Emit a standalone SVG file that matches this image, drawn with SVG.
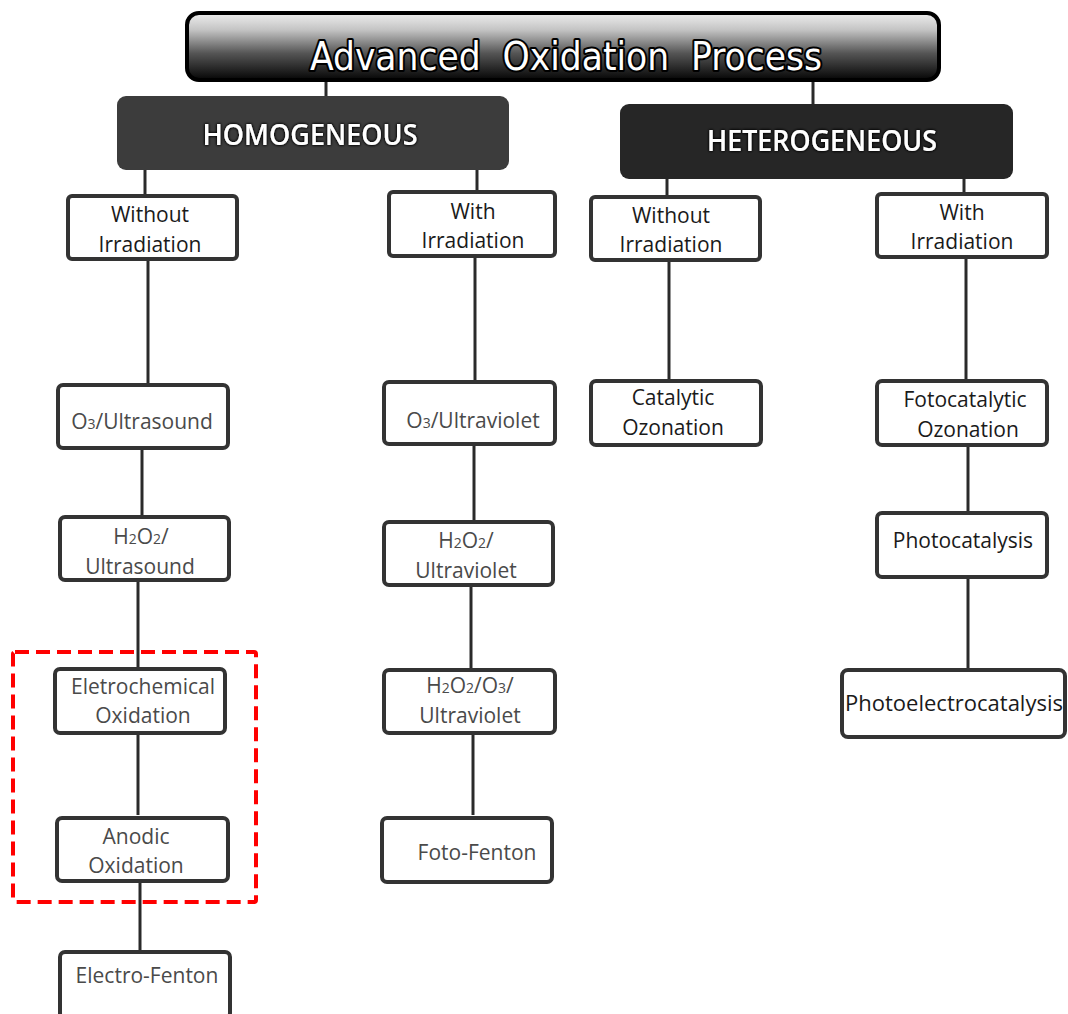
<svg xmlns="http://www.w3.org/2000/svg" width="1068" height="1014" viewBox="0 0 1068 1014">
  <defs>
    <linearGradient id="titleGrad" x1="0" y1="0" x2="0" y2="1">
      <stop offset="0" stop-color="#eeeeee"/>
      <stop offset="0.25" stop-color="#c4c4c4"/>
      <stop offset="0.6" stop-color="#555555"/>
      <stop offset="1" stop-color="#050505"/>
    </linearGradient>
    <filter id="glow" x="-10%" y="-40%" width="120%" height="180%">
      <feGaussianBlur in="SourceAlpha" stdDeviation="1.6" result="b"/>
      <feFlood flood-color="#000"/>
      <feComposite in2="b" operator="in"/>
      <feMerge><feMergeNode/><feMergeNode/><feMergeNode in="SourceGraphic"/></feMerge>
    </filter>
  </defs>
  <style>
    .box { fill: #ffffff; stroke: #333333; stroke-width: 4; }
    .lbl { font-family: "Open Sans", "Noto Sans", sans-serif; font-size: 21px; fill: #4a4a4a; text-anchor: middle; }
    .dark { fill: #1a1a1a; }
    .cat { font-family: "Open Sans", "Noto Sans", sans-serif; font-size: 28px; font-weight: 600; fill: #ffffff; text-anchor: middle; }
    .title { font-family: "DejaVu Sans Condensed", "DejaVu Sans", sans-serif; font-size: 39px; fill: #ffffff; text-anchor: middle; stroke: #000; stroke-width: 4; paint-order: stroke; stroke-linejoin: round; white-space: pre; }
    .sub { font-size: 14px; }
    .link { stroke: #2a2a2a; stroke-width: 3; fill: none; }
    .hilite { fill: none; stroke: #ff0000; stroke-width: 4; stroke-dasharray: 14 7; }
  </style>

  <!-- connectors -->
  <g id="connectors">
    <line class="link" x1="326" y1="80" x2="326" y2="97" stroke-width="4"/>
    <line class="link" x1="813" y1="80" x2="813" y2="105" stroke-width="4"/>
    <line class="link" x1="145" y1="170" x2="145" y2="196"/>
    <line class="link" x1="477" y1="170" x2="477" y2="192"/>
    <line class="link" x1="667" y1="179" x2="667" y2="197"/>
    <line class="link" x1="964" y1="179" x2="964" y2="194"/>
    <line class="link" x1="148" y1="259" x2="148" y2="385"/>
    <line class="link" x1="142" y1="448" x2="142" y2="517"/>
    <line class="link" x1="138" y1="580" x2="138" y2="669"/>
    <line class="link" x1="138" y1="733" x2="138" y2="815" stroke-width="2"/>
    <line class="link" x1="140" y1="881" x2="140" y2="952"/>
    <line class="link" x1="475" y1="256" x2="475" y2="382"/>
    <line class="link" x1="474" y1="444" x2="474" y2="522"/>
    <line class="link" x1="471" y1="585" x2="471" y2="670" stroke-width="2"/>
    <line class="link" x1="473" y1="733" x2="473" y2="815"/>
    <line class="link" x1="669" y1="260" x2="669" y2="381"/>
    <line class="link" x1="966" y1="257" x2="966" y2="381"/>
    <line class="link" x1="968" y1="445" x2="968" y2="513"/>
    <line class="link" x1="968" y1="577" x2="968" y2="670"/>
  </g>

  <!-- root -->
  <g id="root">
    <rect x="187" y="13" width="752" height="67" rx="12" fill="url(#titleGrad)" stroke="#000" stroke-width="4"/>
    <text class="title" x="566" y="70" xml:space="preserve" textLength="512" lengthAdjust="spacingAndGlyphs">Advanced  Oxidation  Process</text>
  </g>

  <!-- categories -->
  <g id="homogeneous">
    <rect x="117" y="96" width="392" height="74" rx="9" fill="#3c3c3c"/>
    <text class="cat" x="310" y="145" filter="url(#glow)" textLength="215" lengthAdjust="spacingAndGlyphs">HOMOGENEOUS</text>
  </g>
  <g id="heterogeneous">
    <rect x="620" y="104" width="393" height="75" rx="9" fill="#262626"/>
    <text class="cat" x="822" y="151" filter="url(#glow)" textLength="230" lengthAdjust="spacingAndGlyphs">HETEROGENEOUS</text>
  </g>

  <!-- irradiation groups -->
  <g id="homo-without">
    <rect class="box" x="68" y="196" width="169" height="63" rx="4"/>
    <text class="lbl dark" x="150" y="222">Without</text>
    <text class="lbl dark" x="150" y="252">Irradiation</text>
  </g>
  <g id="homo-with">
    <rect class="box" x="389" y="192" width="166" height="64" rx="4"/>
    <text class="lbl dark" x="473" y="219">With</text>
    <text class="lbl dark" x="473" y="248">Irradiation</text>
  </g>
  <g id="hetero-without">
    <rect class="box" x="591" y="197" width="169" height="63" rx="4"/>
    <text class="lbl dark" x="671" y="223">Without</text>
    <text class="lbl dark" x="671" y="252">Irradiation</text>
  </g>
  <g id="hetero-with">
    <rect class="box" x="877" y="194" width="170" height="63" rx="4"/>
    <text class="lbl dark" x="962" y="220">With</text>
    <text class="lbl dark" x="962" y="249">Irradiation</text>
  </g>

  <!-- homogeneous, without irradiation -->
  <g id="o3-ultrasound">
    <rect class="box" x="58" y="385" width="170" height="63" rx="5"/>
    <text class="lbl" x="142" y="429">O<tspan class="sub">3</tspan>/Ultrasound</text>
  </g>
  <g id="h2o2-ultrasound">
    <rect class="box" x="60" y="517" width="169" height="63" rx="5"/>
    <text class="lbl" x="141" y="544">H<tspan class="sub">2</tspan>O<tspan class="sub">2</tspan>/</text>
    <text class="lbl" x="140" y="574">Ultrasound</text>
  </g>
  <g id="electrochemical-oxidation">
    <rect class="box" x="55" y="669" width="170" height="64" rx="5"/>
    <text class="lbl" x="143" y="694">Eletrochemical</text>
    <text class="lbl" x="143" y="723">Oxidation</text>
  </g>
  <g id="anodic-oxidation">
    <rect class="box" x="57" y="818" width="171" height="63" rx="5"/>
    <text class="lbl" x="136" y="844">Anodic</text>
    <text class="lbl" x="136" y="873">Oxidation</text>
  </g>
  <g id="electro-fenton">
    <rect class="box" x="60" y="952" width="170" height="66" rx="5"/>
    <text class="lbl" x="147" y="983">Electro-Fenton</text>
  </g>
  <rect class="hilite" x="13" y="652" width="243" height="250" rx="2"/>

  <!-- homogeneous, with irradiation -->
  <g id="o3-ultraviolet">
    <rect class="box" x="384" y="382" width="171" height="62" rx="5"/>
    <text class="lbl" x="473" y="428">O<tspan class="sub">3</tspan>/Ultraviolet</text>
  </g>
  <g id="h2o2-ultraviolet">
    <rect class="box" x="384" y="522" width="169" height="63" rx="5"/>
    <text class="lbl" x="466" y="548">H<tspan class="sub">2</tspan>O<tspan class="sub">2</tspan>/</text>
    <text class="lbl" x="466" y="578">Ultraviolet</text>
  </g>
  <g id="h2o2-o3-ultraviolet">
    <rect class="box" x="384" y="670" width="171" height="63" rx="5"/>
    <text class="lbl" x="470" y="693">H<tspan class="sub">2</tspan>O<tspan class="sub">2</tspan>/O<tspan class="sub">3</tspan>/</text>
    <text class="lbl" x="470" y="723">Ultraviolet</text>
  </g>
  <g id="foto-fenton">
    <rect class="box" x="382" y="818" width="170" height="64" rx="5"/>
    <text class="lbl" x="477" y="860">Foto-Fenton</text>
  </g>

  <!-- heterogeneous -->
  <g id="catalytic-ozonation">
    <rect class="box" x="591" y="381" width="170" height="64" rx="5"/>
    <text class="lbl dark" x="673" y="405">Catalytic</text>
    <text class="lbl dark" x="673" y="435">Ozonation</text>
  </g>
  <g id="fotocatalytic-ozonation">
    <rect class="box" x="877" y="381" width="170" height="64" rx="5"/>
    <text class="lbl dark" x="965" y="407">Fotocatalytic</text>
    <text class="lbl dark" x="968" y="437">Ozonation</text>
  </g>
  <g id="photocatalysis">
    <rect class="box" x="877" y="513" width="170" height="64" rx="5"/>
    <text class="lbl dark" x="963" y="548">Photocatalysis</text>
  </g>
  <g id="photoelectrocatalysis">
    <rect class="box" x="842" y="670" width="223" height="67" rx="6"/>
    <text class="lbl dark" x="954" y="711" textLength="218" lengthAdjust="spacingAndGlyphs">Photoelectrocatalysis</text>
  </g>
</svg>
